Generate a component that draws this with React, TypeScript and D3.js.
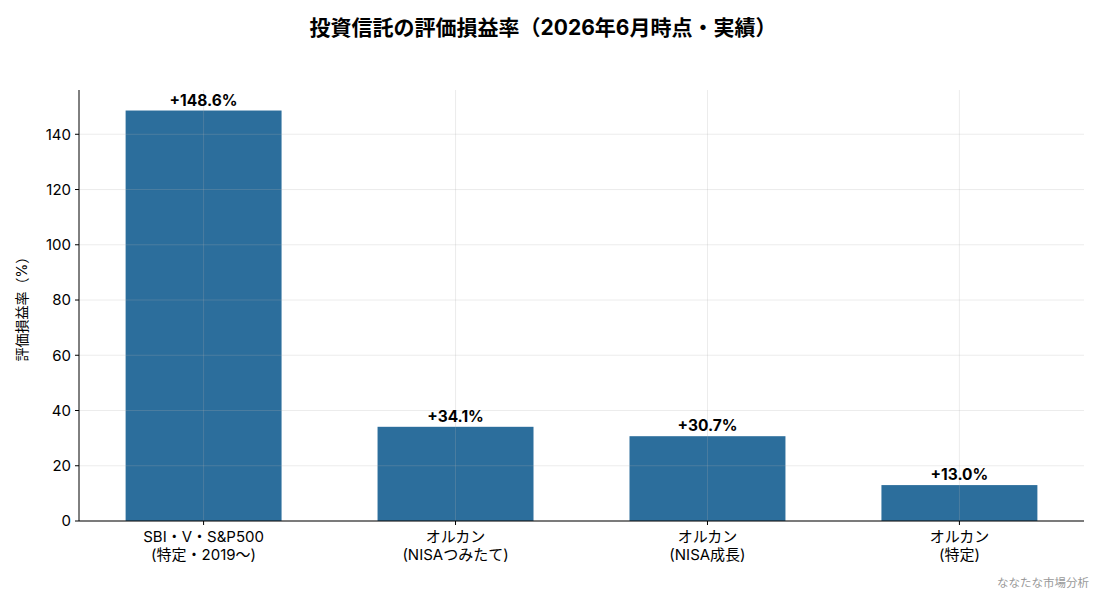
import React from "react";
import * as d3 from "d3";

const categories = ["SBI・V・S&P500\n(特定・2019〜)", "オルカン\n(NISAつみたて)", "オルカン\n(NISA成長)", "オルカン\n(特定)"];
const values = [148.6, 34.1, 30.7, 13.0];
const yTicks = [0, 20, 40, 60, 80, 100, 120, 140];
const title = "投資信託の評価損益率（2026年6月時点・実績）";
const yLabel = "評価損益率（%）";
const watermark = "ななたな市場分析";

const W = 1100, H = 594;
const left = 79, right = 1084, top = 90, bottom = 521;
const FONT = "Inter, 'Noto Sans CJK JP', sans-serif";

export default function App() {
  const x = d3.scaleBand<string>().domain(categories).range([left, right]).paddingInner(0.381).paddingOuter(0.185);
  const y = d3.scaleLinear().domain([0, 148.6 * 1.05]).range([bottom, top]);
  return (
    <svg width={W} height={H} style={{ position: "absolute", left: 0, top: 0, background: "#fff" }} fontFamily={FONT}>
      <rect width={W} height={H} fill="#fff" />
      <text x={543} y={35} textAnchor="middle" fontSize={21} fontWeight="bold" fill="#000">{title}</text>
      {categories.map((c, i) => (
        <rect key={c} x={x(c)} y={y(values[i])} width={x.bandwidth()} height={bottom - y(values[i])} fill="#2c6e9c" />
      ))}
      {yTicks.map(t => (
        <line key={t} x1={left} x2={right} y1={y(t)} y2={y(t)} stroke="#b0b0b0" strokeOpacity={0.3} strokeWidth={0.8} />
      ))}
      {categories.map(c => {
        const cx = x(c)! + x.bandwidth() / 2;
        return <line key={c} x1={cx} x2={cx} y1={top} y2={bottom} stroke="#b0b0b0" strokeOpacity={0.3} strokeWidth={0.8} />;
      })}
      <line x1={left} x2={left} y1={top} y2={bottom} stroke="#000" strokeWidth={1} />
      <line x1={left} x2={right} y1={bottom} y2={bottom} stroke="#000" strokeWidth={1} />
      {yTicks.map(t => (
        <g key={t}>
          <line x1={left - 4} x2={left} y1={y(t)} y2={y(t)} stroke="#000" />
          <text x={left - 8} y={y(t)} dy="0.35em" textAnchor="end" fontSize={15} fill="#000">{t}</text>
        </g>
      ))}
      {categories.map((c, i) => {
        const cx = x(c)! + x.bandwidth() / 2;
        const lines = c.split("\n");
        return (
          <g key={c}>
            <line x1={cx} x2={cx} y1={bottom} y2={bottom + 4} stroke="#000" />
            {lines.map((l, j) => (
              <text key={j} x={cx} y={bottom + 21 + j * 17.5} textAnchor="middle" fontSize={15} fill="#000">{l}</text>
            ))}
            <text x={cx} y={y(values[i]) - 5} textAnchor="middle" fontSize={15.5} fontWeight="bold" fill="#000">{`+${values[i].toFixed(1)}%`}</text>
          </g>
        );
      })}
      <text transform={`translate(27,${(top + bottom) / 2}) rotate(-90)`} textAnchor="middle" fontSize={14} fill="#000">{yLabel}</text>
      <text x={1089} y={587} textAnchor="end" fontSize={11.5} fill="#999">{watermark}</text>
    </svg>
  );
}
